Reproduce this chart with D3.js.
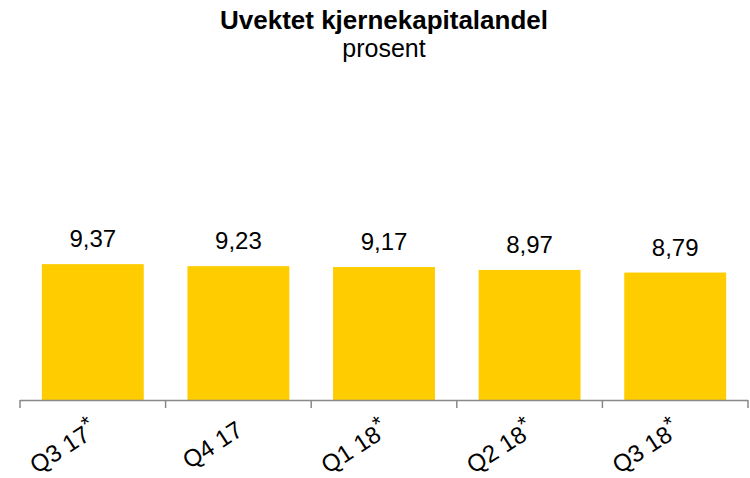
<!DOCTYPE html>
<html>
<head>
<meta charset="utf-8">
<title>Uvektet kjernekapitalandel</title>
<style>
body{margin:0;background:#fff;}
text{font-family:"Liberation Sans",Arial,sans-serif;fill:#000;}
</style>
</head>
<body>
<div id="chart"></div>
<script src="https://cdn.jsdelivr.net/npm/d3@7"></script>
<script>
// data
var quarters = ["Q3 17", "Q4 17", "Q1 18", "Q2 18", "Q3 18"];
var starred = [true, false, true, true, true];
var values = [9.37, 9.23, 9.17, 8.97, 8.79];

var width = 750, height = 478;
var svg = d3.select("#chart").append("svg")
  .attr("width", width).attr("height", height);

var x = d3.scaleBand().domain(quarters).range([20, 748]).paddingInner(0.3).paddingOuter(0.15);
var y = d3.scaleLinear().domain([0, 20]).range([400, 110]);

var fmt = function(v){ return d3.format(".2f")(v).replace(".", ","); };

// bars
svg.selectAll("rect.bar")
  .data(values)
  .enter().append("rect")
    .attr("class", "bar")
    .attr("x", function(d, i){ return x(quarters[i]); })
    .attr("y", function(d){ return y(d); })
    .attr("width", x.bandwidth())
    .attr("height", function(d){ return y(0) - y(d); })
    .style("fill", "#FFCC00");

// value labels
svg.selectAll("text.val")
  .data(values)
  .enter().append("text")
    .attr("class", "val")
    .attr("x", function(d, i){ return x(quarters[i]) + x.bandwidth() / 2; })
    .attr("y", function(d){ return y(d) - 17; })
    .attr("text-anchor", "middle")
    .style("font-size", "24px")
    .text(fmt);

// axis line and ticks at band edges
var edges = d3.range(quarters.length + 1).map(function(i){ return 20 + i * x.step(); });
svg.append("line")
  .attr("x1", 20).attr("x2", 748).attr("y1", 400.5).attr("y2", 400.5)
  .style("stroke", "#898989").style("stroke-width", 1.5);
svg.selectAll("line.tick")
  .data(edges)
  .enter().append("line")
    .attr("class", "tick")
    .attr("x1", function(d){ return d; }).attr("x2", function(d){ return d; })
    .attr("y1", 400).attr("y2", 408)
    .style("stroke", "#898989").style("stroke-width", 1.5);

// category labels, rotated
var lab = svg.selectAll("text.cat")
  .data(quarters)
  .enter().append("text")
    .attr("class", "cat")
    .attr("text-anchor", "end")
    .style("font-size", "24px")
    .attr("transform", function(d){
      return "translate(" + (x(d) + x.bandwidth() / 2 + 6) + ",434) rotate(-33)";
    });
lab.append("tspan").text(function(d){ return d; });
lab.filter(function(d, i){ return starred[i]; })
  .append("tspan")
    .attr("dy", -8)
    .style("font-size", "22px")
    .text("*");

// titles
svg.append("text")
  .attr("x", 384).attr("y", 29)
  .attr("text-anchor", "middle")
  .style("font-size", "26px").style("font-weight", "bold")
  .text("Uvektet kjernekapitalandel");
svg.append("text")
  .attr("x", 384).attr("y", 57)
  .attr("text-anchor", "middle")
  .style("font-size", "25px")
  .text("prosent");
</script>
</body>
</html>
